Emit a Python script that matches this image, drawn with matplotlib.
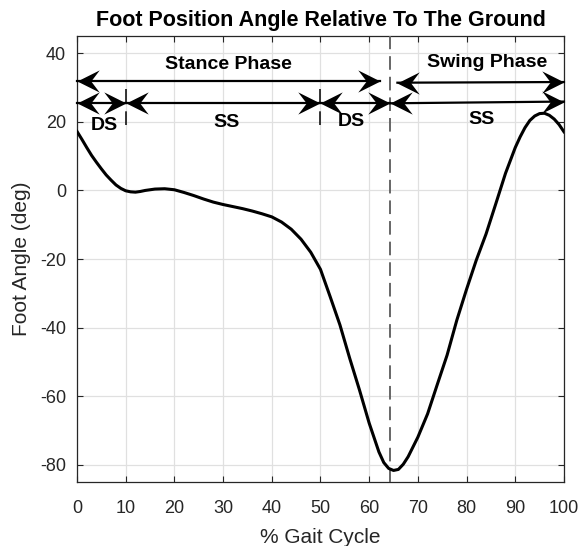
import matplotlib
matplotlib.use("Agg")
import matplotlib.pyplot as plt
from matplotlib.path import Path
import numpy as np

plt.rcParams['font.family'] = ['Liberation Sans', 'DejaVu Sans']
plt.rcParams['axes.unicode_minus'] = False

# ---- data ----
gait_pct = [0, 1, 2, 3, 4, 5, 6, 7, 8, 9, 10, 11, 12, 13, 14, 16, 18, 20, 22, 24,
            26, 28, 30, 32, 34, 36, 38, 40, 42, 44, 46, 48, 50, 52, 54, 56, 58, 60,
            62, 63, 64, 65, 66, 67, 68, 70, 72, 74, 76, 78, 80, 82, 84, 86, 88, 90,
            91, 92, 93, 94, 95, 96, 97, 98, 99, 100]
foot_angle = [17.2, 14.9, 12.5, 10.2, 8.2, 6.3, 4.5, 3.0, 1.6, 0.6, -0.1, -0.4, -0.5,
              -0.3, 0.0, 0.4, 0.5, 0.2, -0.6, -1.5, -2.5, -3.4, -4.1, -4.7, -5.3,
              -6.0, -6.8, -7.7, -9.2, -11.3, -14.2, -18.0, -23.0, -31.0, -39.2,
              -48.9, -58.1, -67.8, -76.2, -79.3, -81.0, -81.6, -81.3, -79.8, -77.6,
              -71.9, -65.1, -56.5, -48.0, -37.8, -28.8, -20.3, -12.7, -3.9, 5.0,
              12.5, 15.6, 18.3, 20.4, 21.7, 22.4, 22.5, 21.9, 20.8, 19.2, 17.1]

toe_off = 64.3
# gait sub-phase boundaries (lower arrow row)
sub_starts = [0, 10, 50, 64.3]
sub_ends = [10, 50, 64.3, 100]
sub_y_start = [25.4, 25.4, 25.4, 25.4]
sub_y_end = [25.4, 25.4, 25.4, 25.9]
sub_labels = ['DS', 'SS', 'DS', 'SS']
sub_label_x = [5.6, 30.6, 56.4, 83.0]
sub_label_y = [18.9, 19.9, 20.0, 20.6]
marker_x = [10, 50]
marker_y = [19.0, 29.7]

# main phases (upper arrow row)
phase_starts = [0, 65.8]
phase_ends = [62.2, 100]
phase_y_start = [32.0, 31.4]
phase_y_end = [32.0, 31.6]
phase_labels = ['Stance Phase', 'Swing Phase']
phase_label_x = [31.0, 84.2]
phase_label_y = [36.6, 37.2]

xticks = list(range(0, 101, 10))
yticks = list(range(-80, 41, 20))

# ---- figure ----
fig = plt.figure(figsize=(5.79, 5.46), dpi=100)
ax = fig.add_axes([0.133, 0.117, 0.841, 0.817])

gray = '0.15'
ax.plot(gait_pct, foot_angle, color='black', lw=2.2, solid_joinstyle='round', zorder=5)
ax.axvline(toe_off, color='0.4', lw=1.4, dashes=(7.0, 3.6), zorder=4)

# chevron arrowheads
right_head = Path([(0, 0), (-1, 0.5), (-0.62, 0), (-1, -0.5), (0, 0)],
                  [Path.MOVETO, Path.LINETO, Path.LINETO, Path.LINETO, Path.CLOSEPOLY])
left_head = Path([(0, 0), (1, 0.5), (0.62, 0), (1, -0.5), (0, 0)],
                 [Path.MOVETO, Path.LINETO, Path.LINETO, Path.LINETO, Path.CLOSEPOLY])


def double_arrow(x0, x1, y0, y1):
    ax.plot([x0, x1], [y0, y1], color='black', lw=1.6, clip_on=False, zorder=6)
    ax.plot([x0], [y0], marker=left_head, ms=32, color='black', mew=0,
            clip_on=False, zorder=7)
    ax.plot([x1], [y1], marker=right_head, ms=32, color='black', mew=0,
            clip_on=False, zorder=7)


for x0, x1, y0, y1 in zip(phase_starts, phase_ends, phase_y_start, phase_y_end):
    double_arrow(x0, x1, y0, y1)
for x0, x1, y0, y1 in zip(sub_starts, sub_ends, sub_y_start, sub_y_end):
    double_arrow(x0, x1, y0, y1)

for mx in marker_x:
    ax.plot([mx, mx], [marker_y[1], marker_y[0]], color='black', lw=1.1,
            dashes=(9.8, 4.8), zorder=6)

for lab, lx, ly in zip(phase_labels, phase_label_x, phase_label_y):
    ax.text(lx, ly, lab, ha='center', va='center', fontsize=14, fontweight='bold')
for lab, lx, ly in zip(sub_labels, sub_label_x, sub_label_y):
    ax.text(lx, ly, lab, ha='center', va='center', fontsize=14, fontweight='bold')

ax.set_xlim(0, 100)
ax.set_ylim(-85, 45)
ax.set_xticks(xticks)
ax.set_yticks(yticks)
ax.grid(True, color='0.88', lw=0.9)
ax.set_axisbelow(True)
ax.tick_params(direction='in', length=4, width=0.8, top=True, right=True,
               colors=gray, labelsize=13, labelcolor=gray)
ax.tick_params(axis='x', pad=13)
ax.tick_params(axis='y', pad=8)
for s in ax.spines.values():
    s.set_color(gray)
    s.set_linewidth(0.9)

ax.set_xlabel('% Gait Cycle', fontsize=15, color=gray, labelpad=8)
ax.set_ylabel('Foot Angle (deg)', fontsize=15, color=gray, labelpad=6)
ax.set_title('Foot Position Angle Relative To The Ground', fontsize=15.5,
             fontweight='bold', pad=7)

fig.savefig('out.png', dpi=100)
